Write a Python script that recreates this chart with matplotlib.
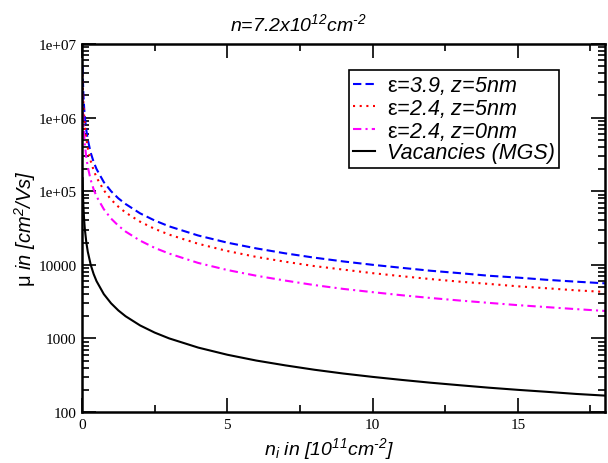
import matplotlib
matplotlib.use("Agg")
import matplotlib.pyplot as plt
from matplotlib.font_manager import FontProperties
from matplotlib.ticker import MultipleLocator, LogLocator, FixedLocator, FixedFormatter, NullFormatter

plt.rcParams['mathtext.fontset'] = 'custom'
plt.rcParams['mathtext.rm'] = 'Liberation Sans'
plt.rcParams['mathtext.it'] = 'Liberation Sans:italic'
plt.rcParams['mathtext.bf'] = 'Liberation Sans:bold'

# x values (10^11 cm^-2)
ni = [0.02, 0.03, 0.05, 0.075, 0.1, 0.15, 0.2, 0.3, 0.4, 0.5, 0.75, 1.0, 1.25, 1.5,
      2.0, 2.5, 3.0, 4.0, 5.0, 6.0, 7.0, 8.0, 9.0, 10.0, 11.0, 12.0, 13.0, 14.0,
      15.0, 16.0, 17.0, 18.0]
# mobility (cm^2/Vs)
mu_eps39_z5 = [5.0e6, 3.33e6, 2.0e6, 1.33e6, 1.0e6, 6.7e5, 5.0e5, 3.33e5, 2.5e5, 2.0e5,
               1.33e5, 1.0e5, 8.0e4, 6.7e4, 5.0e4, 4.0e4, 3.33e4, 2.5e4, 2.0e4, 1.67e4,
               1.43e4, 1.25e4, 1.11e4, 1.0e4, 9.1e3, 8.3e3, 7.7e3, 7.1e3, 6.7e3, 6.25e3,
               5.9e3, 5.6e3]
mu_eps24_z5 = [3.85e6, 2.57e6, 1.54e6, 1.03e6, 7.7e5, 5.13e5, 3.85e5, 2.57e5, 1.93e5, 1.54e5,
               1.03e5, 7.7e4, 6.16e4, 5.13e4, 3.85e4, 3.08e4, 2.57e4, 1.93e4, 1.54e4, 1.28e4,
               1.1e4, 9.6e3, 8.6e3, 7.7e3, 7.0e3, 6.4e3, 5.9e3, 5.5e3, 5.1e3, 4.8e3,
               4.5e3, 4.28e3]
mu_eps24_z0 = [2.13e6, 1.42e6, 8.5e5, 5.7e5, 4.25e5, 2.83e5, 2.13e5, 1.42e5, 1.06e5, 8.5e4,
               5.7e4, 4.25e4, 3.4e4, 2.83e4, 2.13e4, 1.7e4, 1.42e4, 1.06e4, 8.5e3, 7.1e3,
               6.1e3, 5.3e3, 4.7e3, 4.25e3, 3.86e3, 3.54e3, 3.27e3, 3.04e3, 2.83e3, 2.66e3,
               2.5e3, 2.36e3]
mu_vac = [1.5e5, 1.0e5, 6.0e4, 4.0e4, 3.0e4, 2.0e4, 1.5e4, 1.0e4, 7.5e3, 6.0e3,
          4.0e3, 3.0e3, 2.4e3, 2.0e3, 1.5e3, 1.2e3, 1.0e3, 750, 600, 500,
          430, 375, 333, 300, 273, 250, 231, 214, 200, 188, 176, 167]

labels = [r'$\mathrm{ε}$=3.9, z=5nm',
          r'$\mathrm{ε}$=2.4, z=5nm',
          r'$\mathrm{ε}$=2.4, z=0nm',
          'Vacancies (MGS)']
ytick_vals = [100, 1000, 10000, 1e5, 1e6, 1e7]
ytick_labels = ['100', '1000', '10000', '1e+05', '1e+06', '1e+07']
xtick_vals = [0, 5, 10, 15]

ital = dict(family='Liberation Sans', style='italic')

fig = plt.figure(figsize=(6.08, 4.64), dpi=100)
ax = fig.add_axes([82/608, 1-413/464, (605-82)/608, (413-45)/464])

ax.plot(ni, mu_eps39_z5, color='#0000ff', lw=1.5, linestyle=(0, (4, 2)), label=labels[0])
ax.plot(ni, mu_eps24_z5, color='#ff0000', lw=1.5, linestyle=(0, (1, 2.2)), label=labels[1])
ax.plot(ni, mu_eps24_z0, color='#ff00ff', lw=1.5, linestyle=(0, (4, 2, 1, 2)), label=labels[2])
ax.plot(ni, mu_vac, color='black', lw=1.5, linestyle='-', label=labels[3])

ax.set_yscale('log')
ax.set_xlim(0, 18)
ax.set_ylim(100, 1e7)

ax.yaxis.set_major_locator(FixedLocator(ytick_vals))
ax.yaxis.set_major_formatter(FixedFormatter(ytick_labels))
ax.yaxis.set_minor_locator(LogLocator(base=10, subs=range(2, 10)))
ax.yaxis.set_minor_formatter(NullFormatter())
ax.xaxis.set_major_locator(FixedLocator(xtick_vals))
ax.xaxis.set_minor_locator(MultipleLocator(2.5))

ax.tick_params(which='both', direction='in', top=True, right=True, width=1.2,
               labelsize=11, pad=4)
ax.tick_params(which='major', length=10)
ax.tick_params(which='minor', length=5)
for lab in ax.get_xticklabels() + ax.get_yticklabels():
    lab.set_fontfamily('Liberation Serif')
for s in ax.spines.values():
    s.set_linewidth(1.8)

ax.set_title(r'n=7.2x10$^{\mathregular{12}}$cm$^{\mathregular{‐2}}$', fontsize=14, pad=10,
             x=(298-82)/(605-82), **ital)
ax.set_xlabel(r'n$_{\mathregular{i}}$ in [10$^{\mathregular{11}}$cm$^{\mathregular{‐2}}$]',
              fontsize=14, labelpad=0, **ital)
ax.xaxis.set_label_coords((329-82)/(605-82), -0.062)
ax.xaxis.label.set_va('top')
ax.set_ylabel(r'$\mathrm{μ}$ in [cm$^{\mathregular{2}}$/Vs]', fontsize=14.5, **ital)
ax.yaxis.set_label_coords(-0.084, 0.5)

leg = ax.legend(loc='upper right',
                bbox_to_anchor=((559-82)/(605-82), 1 - (71-45)/(413-45)),
                bbox_transform=ax.transAxes,
                prop=FontProperties(family='Liberation Sans', style='italic', size=15.5),
                frameon=True, fancybox=False, edgecolor='black', framealpha=1,
                borderpad=0.2, labelspacing=0.03, handlelength=1.0,
                handletextpad=0.55, borderaxespad=0)
leg.get_frame().set_linewidth(1.2)

fig.savefig('out.png', dpi=100)
